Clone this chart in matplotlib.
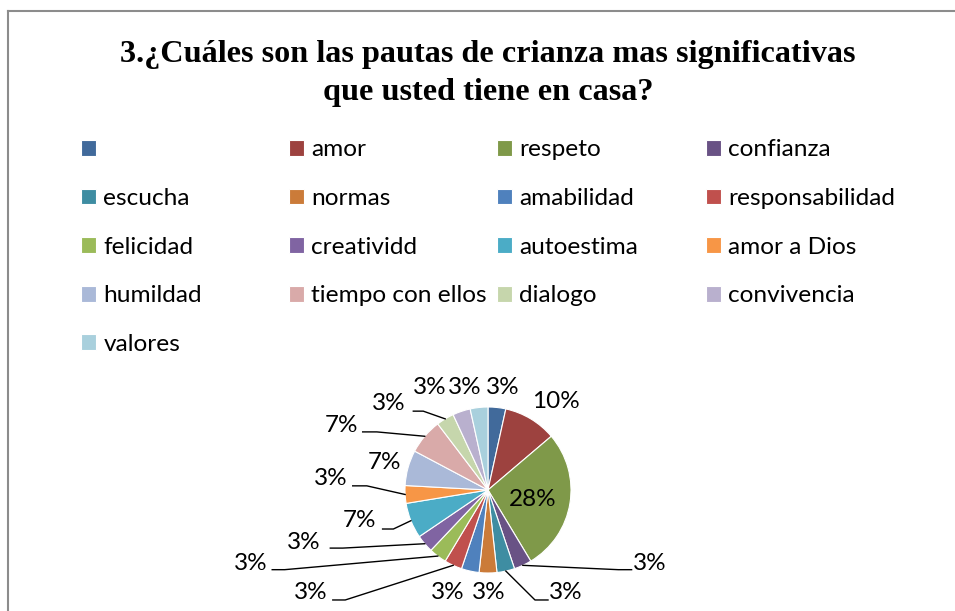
import numpy as np
import matplotlib.pyplot as plt
from matplotlib.lines import Line2D

# datos de la encuesta (pregunta 3)
categorias = ['', 'amor', 'respeto', 'confianza', 'escucha', 'normas', 'amabilidad',
              'responsabilidad', 'felicidad', 'creatividd', 'autoestima', 'amor a Dios',
              'humildad', 'tiempo con ellos', 'dialogo', 'convivencia', 'valores']
respuestas = [1, 3, 8, 1, 1, 1, 1, 1, 1, 1, 2, 1, 2, 2, 1, 1, 1]

colores = ['#416a9b', '#9d423f', '#7f9949', '#695285', '#3e8da2', '#cb7b39',
           '#4f81bd', '#c0504d', '#9bbb59', '#8064a2', '#4bacc6', '#f79646',
           '#aab9d8', '#d9aaa9', '#c6d6ac', '#b9b0ce', '#a9d0dd']

# posiciones de las etiquetas (en radios del pastel) y lineas guia (codo, final)
pos_etiquetas = [(0.18, 1.23), (0.82, 1.07), (0.54, -0.11), (1.95, -0.88), (0.94, -1.23),
                 (0.01, -1.23), (-0.48, -1.23), (-2.13, -1.23), (-2.86, -0.88),
                 (-2.22, -0.63), (-1.55, -0.37), (-1.89, 0.14), (-1.25, 0.33),
                 (-1.77, 0.78), (-1.20, 1.04), (-0.70, 1.23), (-0.28, 1.23)]
guias = [None, None, None, ((1.57, -0.96), (1.73, -0.96)), ((0.566, -1.325), (0.723, -1.325)),
         None, None, ((-1.72, -1.325), (-1.87, -1.325)), ((-2.45, -0.96), (-2.60, -0.96)),
         ((-1.75, -0.70), (-1.90, -0.70)), ((-1.14, -0.47), (-1.27, -0.47)),
         ((-1.46, 0.05), (-1.63, 0.05)), None, ((-1.34, 0.70), (-1.51, 0.70)),
         ((-0.78, 0.95), (-0.90, 0.95)), None, None]

W, H = 955, 611
cx, cy, R = 488, 490, 83

fig = plt.figure(figsize=(W / 100, H / 100), dpi=100)
ax = fig.add_axes([0, 0, 1, 1])

wedges, _ = ax.pie(respuestas, colors=colores, startangle=90, counterclock=False,
                   radius=1, center=(0, 0),
                   wedgeprops=dict(edgecolor='white', linewidth=0.8))
ax.set_aspect('auto')
ax.set_xlim(-cx / R, (W - cx) / R)
ax.set_ylim(-(H - cy) / R, cy / R)
ax.axis('off')

total = sum(respuestas)
for w, v, pos, guia in zip(wedges, respuestas, pos_etiquetas, guias):
    ax.text(pos[0], pos[1], f'{round(100 * v / total)}%', ha='center', va='center',
            fontsize=17.5, family='Lato', color='black')
    if guia is not None:
        ang = np.deg2rad((w.theta1 + w.theta2) / 2)
        xs = [np.cos(ang), guia[0][0], guia[1][0]]
        ys = [np.sin(ang), guia[0][1], guia[1][1]]
        ax.plot(xs, ys, color='black', lw=1)

# titulo
fig.text(488 / W, 1 - 73.5 / H,
         '3.¿Cuáles son las pautas de crianza mas significativas\nque usted tiene en casa?',
         ha='center', va='center', fontsize=23.2, fontweight='bold',
         family='Liberation Serif', linespacing=1.45)

# leyenda en 4 columnas, llenada por filas
col_x = [81, 289, 497, 706]
for c in range(4):
    idx = list(range(c, len(categorias), 4))
    fig.legend([wedges[i] for i in idx], [categorias[i] for i in idx],
               loc='upper left', bbox_to_anchor=(col_x[c] / W, 1 - 139.5 / H),
               frameon=False, ncol=1, borderpad=0, borderaxespad=0,
               handlelength=0.62, handleheight=0.62, handletextpad=0.3,
               labelspacing=1.13, prop=dict(family='Lato', size=17.6))

# marco
gris = '#8c8c8c'
fig.add_artist(Line2D([8 / W, 8 / W], [0, 1 - 11 / H], color=gris, lw=1.5,
                      transform=fig.transFigure))
fig.add_artist(Line2D([8 / W, 1], [1 - 11 / H, 1 - 11 / H], color=gris, lw=1.5,
                      transform=fig.transFigure))

fig.savefig('out.png', dpi=100)
